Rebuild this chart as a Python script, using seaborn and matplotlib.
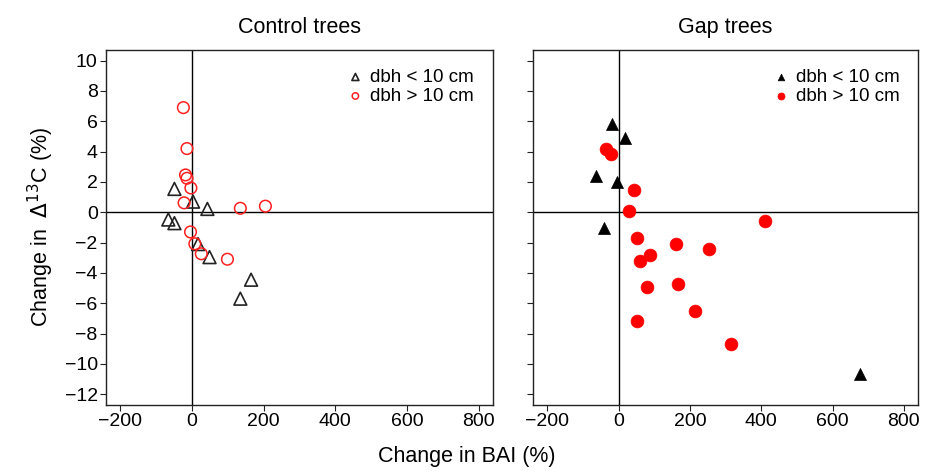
import pandas as pd
import matplotlib
matplotlib.use("Agg")
import matplotlib.pyplot as plt
import seaborn as sns

# --- данные ---
# Control trees
ctrl_small_bai = [-49, 3, 43, -66, -49, 17, 49, 165, 135]
ctrl_small_d13c = [1.54, 0.7, 0.22, -0.48, -0.72, -2.1, -2.96, -4.45, -5.7]
ctrl_large_bai = [-24, -14, -18, -14, -3, -22, 135, 205, -4, 8, 26, 99]
ctrl_large_d13c = [6.9, 4.2, 2.46, 2.24, 1.6, 0.62, 0.26, 0.4, -1.3, -2.08, -2.74, -3.1]

# Gap trees
gap_small_bai = [-18, 19, -62, -4, -40, 678]
gap_small_d13c = [5.8, 4.9, 2.37, 2.0, -1.03, -10.66]
gap_large_bai = [-36, -20, 42, 28, 52, 411, 161, 254, 87, 60, 166, 80, 213, 52, 315]
gap_large_d13c = [4.15, 3.87, 1.44, 0.07, -1.7, -0.55, -2.1, -2.45, -2.8, -3.24,
                  -4.7, -4.93, -6.5, -7.2, -8.66]

x_ticks = [-200, 0, 200, 400, 600, 800]
y_ticks = list(range(-12, 11, 2))

sns.set_theme(style="white")
plt.rcParams['font.family'] = ['Liberation Sans', 'DejaVu Sans']
plt.rcParams['axes.unicode_minus'] = True
plt.rcParams['text.color'] = 'black'
plt.rcParams['axes.labelcolor'] = 'black'

fig = plt.figure(figsize=(9.33, 4.74), dpi=100)
ax1 = fig.add_axes([0.1136, 0.146, 0.4147, 0.7485])
ax2 = fig.add_axes([0.5713, 0.146, 0.4127, 0.7485])


def draw_panel(ax, sb, sd, lb, ld, filled, title):
    df_s = pd.DataFrame({'bai': sb, 'd13c': sd})
    df_l = pd.DataFrame({'bai': lb, 'd13c': ld})
    ax.axhline(0, color='black', lw=1.0, zorder=1)
    ax.axvline(0, color='black', lw=1.0, zorder=1)
    if filled:
        sns.scatterplot(data=df_s, x='bai', y='d13c', ax=ax, marker='^', s=75,
                        color='black', edgecolor='black', linewidth=0.5,
                        label='dbh < 10 cm', zorder=3)
        sns.scatterplot(data=df_l, x='bai', y='d13c', ax=ax, marker='o', s=85,
                        color='#ff0000', edgecolor='#ff0000', linewidth=0.5,
                        label='dbh > 10 cm', zorder=3)
    else:
        sns.scatterplot(data=df_s, x='bai', y='d13c', ax=ax, marker='^', s=85,
                        facecolor='none', edgecolor='#222222', linewidth=1.2,
                        label='dbh < 10 cm', zorder=3)
        sns.scatterplot(data=df_l, x='bai', y='d13c', ax=ax, marker='o', s=70,
                        facecolor='none', edgecolor='#ff2020', linewidth=1.1,
                        label='dbh > 10 cm', zorder=3)
    ax.set_xlim(-240, 840)
    ax.set_ylim(-12.7, 10.7)
    ax.set_xticks(x_ticks)
    ax.set_yticks(y_ticks)
    ax.set_xlabel('')
    ax.set_ylabel('')
    ax.set_title(title, fontsize=15.5, pad=12, color='black')
    for sp in ax.spines.values():
        sp.set_color('#222222')
        sp.set_linewidth(1.0)
    ax.tick_params(axis='both', direction='out', length=4, width=0.8,
                   colors='#222222', labelcolor='black', labelsize=14,
                   bottom=True, left=True, pad=2)
    leg = ax.legend(loc='upper right', frameon=False, fontsize=13.5,
                    markerscale=0.55, handletextpad=0.3, borderaxespad=0.6,
                    labelspacing=0.1, handlelength=1.0)
    return leg


draw_panel(ax1, ctrl_small_bai, ctrl_small_d13c, ctrl_large_bai, ctrl_large_d13c,
           False, 'Control trees')
draw_panel(ax2, gap_small_bai, gap_small_d13c, gap_large_bai, gap_large_d13c,
           True, 'Gap trees')
ax2.tick_params(axis='y', labelleft=False)

ax1.set_ylabel('Change in  $\\Delta^{13}$C (%)', fontsize=15.5, labelpad=6)
fig.text(0.5, 0.025, 'Change in BAI (%)', ha='center', fontsize=15.5)

fig.savefig('out.png', dpi=100)
